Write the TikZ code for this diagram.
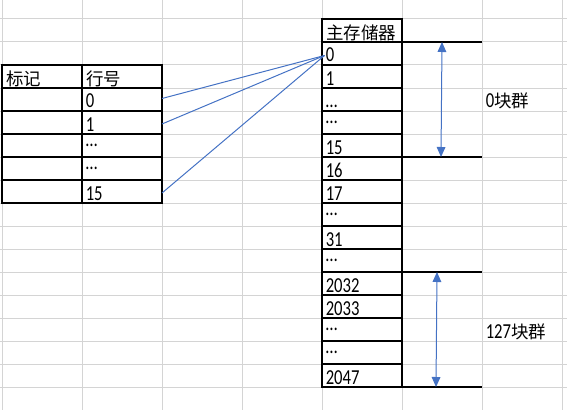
\documentclass[tikz,border=0pt]{standalone}
\usepackage{fontspec}
\setmainfont{Carlito}[FakeStretch=0.78]
\newfontfamily\cjk{Noto Sans CJK SC}
\usetikzlibrary{arrows.meta}

\definecolor{gridgray}{RGB}{212,212,212}
\definecolor{lineblue}{RGB}{68,114,196}
\newcommand{\zh}[1]{{\cjk\fontsize{13.1pt}{13.1pt}\selectfont #1}}
\newcommand{\mdots}{\raisebox{5.5pt}[0pt][0pt]{…}}

\tikzset{
  gridline/.style={draw=gridgray, line width=0.75pt},
  tabline/.style={draw=black, line width=1.1pt},
  cell/.style={anchor=base west, inner sep=0pt, font=\fontsize{16pt}{16pt}\selectfont},
  link/.style={draw=lineblue, line width=0.75pt},
  span/.style={draw=lineblue, line width=0.75pt,
    {Triangle[length=7.5pt,width=6.5pt]}-{Triangle[length=7.5pt,width=6.5pt]}, color=lineblue},
}

\begin{document}
\begin{tikzpicture}[x=0.75pt,y=0.75pt,yscale=-1,xscale=1]
\useasboundingbox (0,0) rectangle (567,410);

%Sheet grid
\foreach \gx in {2,82,...,562}
  \draw [gridline] (\gx,0) -- (\gx,410);
\foreach \gy in {19,42,...,387}
  \draw [gridline] (0,\gy) -- (567,\gy);

%Shape: Rectangle (tag table)
\draw [tabline] (2,65) rectangle (162,203);
\draw [tabline] (82,65) -- (82,203);
\foreach \ty in {88,111,...,180}
  \draw [tabline] (2,\ty) -- (162,\ty);

%Shape: Rectangle (main memory)
\draw [tabline] (322,19) rectangle (402,387);
\foreach \my in {42,65,...,364}
  \draw [tabline] (322,\my) -- (402,\my);

%Straight Lines (block group bounds)
\foreach \by in {42,157,272,387}
  \draw [tabline] (402,\by) -- (482,\by);

% Text Node
\node [cell] (tag) at (6,85) {\zh{标记}};
\node [cell] (lineno) at (86,85) {\zh{行号}};
\node [cell] (l0) at (85.5,108) {0};
\node [cell] (l1) at (85.5,131) {1};
\node [cell] (l2) at (85.5,154) {\mdots};
\node [cell] (l3) at (85.5,177) {\mdots};
\node [cell] (l15) at (85.5,200) {15};

% Text Node
\node [cell] (mem) at (326,39.5) {\zh{主存储器}};
\foreach \lab [count=\k from 0] in {0,1,…,\mdots,15,16,17,\mdots,31,\mdots,2032,2033,\mdots,\mdots,2047}
  \node [cell] (m\k) at (325.5,62+23*\k) {\lab};

% Text Node
\node [cell] (grp0) at (485.5,108) {0\zh{块群}};
\node [cell] (grp127) at (485.5,338) {127\zh{块群}};

%Straight Lines (line to block 0)
\coordinate (r0) at (162,98.5);
\coordinate (r1) at (162,124);
\coordinate (r15) at (162,193);
\coordinate (c0) at (324.5,55.5);
\draw [link] (r0) -- (c0);
\draw [link] (r1) -- (c0);
\draw [link] (r15) -- (c0);

%Straight Lines (group spans)
\coordinate (g0a) at (442,42);
\coordinate (g0b) at (441,157);
\coordinate (g127a) at (437,272);
\coordinate (g127b) at (436,387);
\draw [span] (g0a) -- (g0b);
\draw [span] (g127a) -- (g127b);

\end{tikzpicture}
\end{document}
